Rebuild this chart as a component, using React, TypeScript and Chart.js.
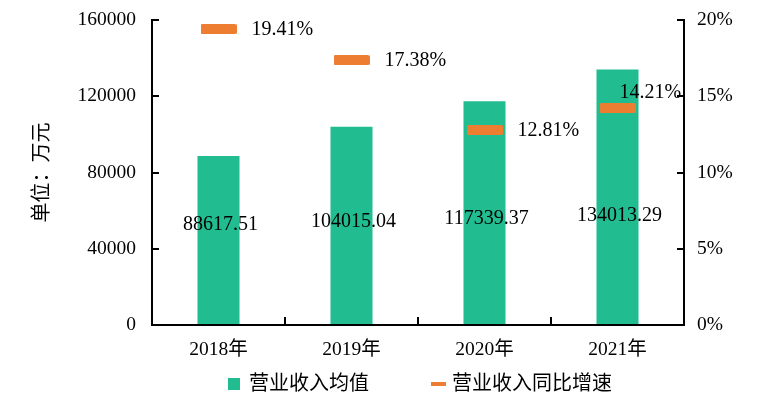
import React, { useEffect, useRef } from "react";
import { Chart, registerables } from "chart.js";

Chart.register(...registerables);

const categories = ["2018年", "2019年", "2020年", "2021年"];
const revenueAvg = [88617.51, 104015.04, 117339.37, 134013.29];
const growthRate = [0.1941, 0.1738, 0.1281, 0.1421];
const growthLabelPlacement = ["right", "right", "right", "above"];
const seriesNames = ["营业收入均值", "营业收入同比增速"];
const yTitle = "单位：万元";

const GREEN = "#21BD91";
const ORANGE = "#ED7D31";
const FAMILY = '"Liberation Serif", "Noto Sans CJK SC", serif';

export default function App() {
  const ref = useRef<HTMLCanvasElement | null>(null);

  useEffect(() => {
    const canvas = ref.current;
    if (!canvas) return;

    const marker = document.createElement("canvas");
    marker.width = 36;
    marker.height = 10;
    const mctx = marker.getContext("2d")!;
    mctx.fillStyle = ORANGE;
    if ((mctx as any).roundRect) {
      mctx.beginPath();
      (mctx as any).roundRect(0, 0, 36, 10, 1.5);
      mctx.fill();
    } else {
      mctx.fillRect(0, 0, 36, 10);
    }

    const labelPlugin = {
      id: "customLabels",
      afterDatasetsDraw(chart: any) {
        const ctx = chart.ctx;
        const yScale = chart.scales.y;
        ctx.save();
        ctx.fillStyle = "#000";
        ctx.textBaseline = "middle";
        const barMeta = chart.getDatasetMeta(1);
        ctx.font = `20px ${FAMILY}`;
        ctx.textAlign = "center";
        barMeta.data.forEach((bar: any, i: number) => {
          const y = yScale.getPixelForValue(52500) - 3 * i;
          ctx.fillText(revenueAvg[i].toFixed(2), bar.x + 2, y);
        });
        const lineMeta = chart.getDatasetMeta(0);
        ctx.textAlign = "left";
        lineMeta.data.forEach((pt: any, i: number) => {
          const txt = (growthRate[i] * 100).toFixed(2) + "%";
          if (growthLabelPlacement[i] === "above") {
            ctx.fillText(txt, pt.x + 2, pt.y - 16);
          } else {
            ctx.fillText(txt, pt.x + 33, pt.y + 1);
          }
        });
        ctx.restore();
      },
      afterDraw(chart: any) {
        const ctx = chart.ctx;
        const area = chart.chartArea;
        ctx.save();
        ctx.font = `20px ${FAMILY}`;
        ctx.textBaseline = "middle";
        ctx.textAlign = "left";
        const w0 = ctx.measureText(seriesNames[0]).width;
        const w1 = ctx.measureText(seriesNames[1]).width;
        const item0 = 12 + 9 + w0;
        const item1 = 15 + 6 + w1;
        const gap = 62;
        const total = item0 + gap + item1;
        const cx = (area.left + area.right) / 2 + 2;
        let x = cx - total / 2;
        const y = 384;
        ctx.fillStyle = GREEN;
        ctx.fillRect(x, y - 6, 12, 12);
        ctx.fillStyle = "#000";
        ctx.fillText(seriesNames[0], x + 21, y + 1);
        x += item0 + gap;
        ctx.fillStyle = ORANGE;
        ctx.fillRect(x, y - 2, 15, 4);
        ctx.fillStyle = "#000";
        ctx.fillText(seriesNames[1], x + 21, y + 1);
        ctx.restore();
      },
    };

    const fixVertical = (w: number) => (scale: any) => {
      scale.width = w;
      scale.paddingTop = 0;
      scale.paddingBottom = 0;
    };

    const chart = new Chart(canvas, {
      type: "bar",
      data: {
        labels: categories,
        datasets: [
          {
            type: "line",
            label: seriesNames[1],
            data: growthRate,
            yAxisID: "y1",
            showLine: false,
            pointStyle: marker as any,
            pointRadius: 3,
            order: 0,
          } as any,
          {
            type: "bar",
            label: seriesNames[0],
            data: revenueAvg,
            yAxisID: "y",
            backgroundColor: GREEN,
            barPercentage: 0.316,
            categoryPercentage: 1,
            order: 1,
          },
        ],
      },
      options: {
        animation: false,
        responsive: false,
        maintainAspectRatio: false,
        layout: { padding: { top: 20, left: 0, right: 0, bottom: 0 } },
        plugins: {
          legend: { display: false },
          tooltip: { enabled: false },
        },
        scales: {
          x: {
            grid: {
              display: true,
              drawOnChartArea: false,
              drawTicks: true,
              tickLength: -8,
              color: "#000",
              lineWidth: 2,
              offset: true,
            },
            border: { display: true, color: "#000", width: 2 },
            ticks: {
              color: "#000",
              font: { family: FAMILY, size: 19.5 },
              padding: 21,
            },
            afterFit(scale: any) {
              scale.height = 74;
              scale.paddingLeft = 0;
              scale.paddingRight = 0;
            },
          },
          y: {
            position: "left",
            min: 0,
            max: 160000,
            grid: {
              display: true,
              drawOnChartArea: false,
              drawTicks: true,
              tickLength: -7,
              color: "#000",
              lineWidth: 2,
            },
            border: { display: true, color: "#000", width: 2 },
            ticks: {
              stepSize: 40000,
              color: "#000",
              font: { family: FAMILY, size: 19.5 },
              padding: 23,
              callback: (v: any) => String(v),
            },
            title: {
              display: true,
              text: yTitle,
              color: "#000",
              font: { family: FAMILY, size: 20 },
              padding: { top: 31, bottom: 0 },
            },
            afterFit: fixVertical(152),
          },
          y1: {
            position: "right",
            min: 0,
            max: 0.2,
            grid: {
              display: true,
              drawOnChartArea: false,
              drawTicks: true,
              tickLength: -7,
              color: "#000",
              lineWidth: 2,
            },
            border: { display: true, color: "#000", width: 2 },
            ticks: {
              stepSize: 0.05,
              color: "#000",
              font: { family: FAMILY, size: 19.5 },
              padding: 20,
              callback: (v: any) => Math.round(Number(v) * 100) + "%",
            },
            afterFit: fixVertical(97),
          },
        },
      } as any,
      plugins: [labelPlugin],
    });

    return () => chart.destroy();
  }, []);

  return (
    <div style={{ position: "absolute", left: 0, top: 0, width: 781, height: 399 }}>
      <canvas ref={ref} width={781} height={399} style={{ width: 781, height: 399, display: "block" }} />
    </div>
  );
}
